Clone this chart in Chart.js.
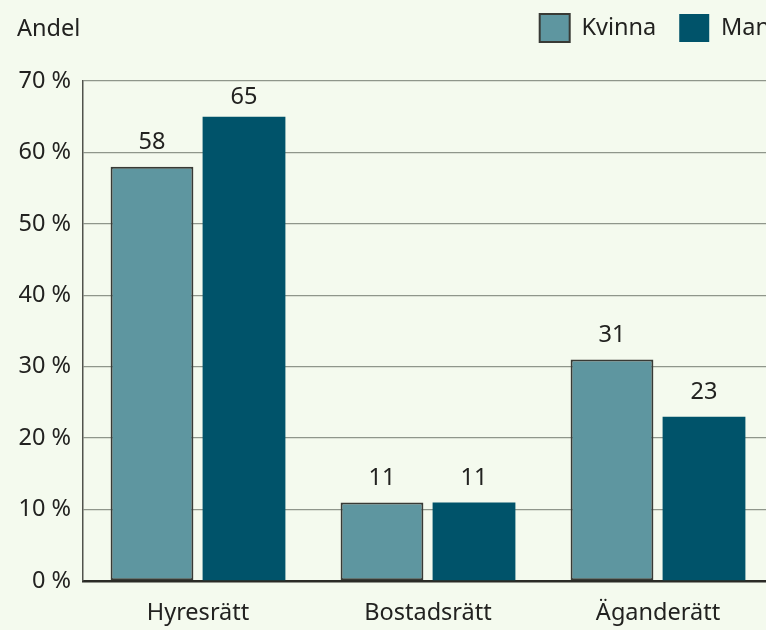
<!DOCTYPE html>
<html lang="sv">
<head>
<meta charset="utf-8">
<title>Andel per upplåtelseform</title>
<script src="https://cdn.jsdelivr.net/npm/chart.js@4/dist/chart.umd.min.js"></script>
<style>
  html, body { margin: 0; padding: 0; background: #f4faee; overflow: hidden; }
  #wrap { position: relative; width: 773px; height: 630px; }
</style>
</head>
<body>
<div id="wrap"><canvas id="chart"></canvas></div>
<script>
/* bar chart — andel per upplåtelseform och kön */

const categories  = ["Hyresrätt", "Bostadsrätt", "Äganderätt"];
const kvinnaVals  = [58, 11, 31];
const manVals     = [65, 11, 23];
const yTicks      = [0, 10, 20, 30, 40, 50, 60, 70];

const FONT  = "'Noto Sans', 'Open Sans', sans-serif";
const SIZE  = 23.5;
const TEXT  = "#222220";

// "Andel" above the y axis
const axisTitle = {
  id: "axisTitle",
  afterDraw(chart) {
    const ctx = chart.ctx;
    ctx.save();
    ctx.font = `${SIZE}px ${FONT}`;
    ctx.fillStyle = TEXT;
    ctx.textAlign = "left";
    ctx.textBaseline = "middle";
    ctx.fillText("Andel", 17, 29);
    ctx.restore();
  },
};

// extra room under the legend, legend nudged right (it runs off the edge)
const legendTweak = {
  id: "legendTweak",
  beforeInit(chart) {
    const lg   = chart.legend;
    const fit  = lg.fit;
    const draw = lg.draw;
    lg.fit = function () {
      fit.call(this);
      this.height += 20;
    };
    lg.draw = function (...args) {
      this.ctx.save();
      this.ctx.translate(20, -9);
      draw.apply(this, args);
      this.ctx.restore();
    };
  },
};

// value labels on top of each bar
const valueLabels = {
  id: "valueLabels",
  afterDatasetsDraw(chart) {
    const ctx = chart.ctx;
    ctx.save();
    ctx.font = `${SIZE}px ${FONT}`;
    ctx.fillStyle = TEXT;
    ctx.textAlign = "center";
    ctx.textBaseline = "middle";
    chart.data.datasets.forEach((ds, i) => {
      chart.getDatasetMeta(i).data.forEach((bar, j) => {
        const y = Math.max(bar.y - 24, chart.chartArea.top + 16);
        ctx.fillText(ds.data[j], bar.x, y);
      });
    });
    ctx.restore();
  },
};

new Chart(document.getElementById("chart"), {
  type: "bar",
  data: {
    labels: categories,
    datasets: [
      {
        label: "Kvinna",
        data: kvinnaVals,
        backgroundColor: "#5e96a0",
        borderColor: "#383a35",
        borderWidth: 2,
        borderSkipped: false,
      },
      {
        label: "Man",
        data: manVals,
        backgroundColor: "#00536a",
        borderColor: "#00536a",
        borderWidth: 0,
      },
    ],
  },
  options: {
    responsive: true,
    maintainAspectRatio: false,
    animation: false,
    categoryPercentage: 0.8,
    barPercentage: 0.9,
    layout: { padding: 0 },
    plugins: {
      legend: {
        position: "top",
        align: "end",
        labels: {
          boxWidth: 30,
          boxHeight: 28,
          padding: 23,
          color: TEXT,
          font: { family: FONT, size: SIZE },
        },
      },
      tooltip: { enabled: false },
    },
    scales: {
      x: {
        afterFit: s => { s.height = 49; },
        grid: { display: false, drawTicks: false },
        border: { color: "#2b2b26", width: 2.5 },
        ticks: { color: TEXT, padding: 18, font: { family: FONT, size: SIZE } },
      },
      y: {
        min: 0,
        max: 70,
        afterFit: s => { s.width = 83; },
        afterBuildTicks: s => { s.ticks = yTicks.map(v => ({ value: v })); },
        grid: { color: "#8f968b", lineWidth: 1.3, drawTicks: false },
        border: { color: "#50524c", width: 1.5 },
        ticks: {
          color: TEXT,
          padding: 12,
          font: { family: FONT, size: SIZE },
          callback: v => v + " %",
        },
      },
    },
  },
  plugins: [legendTweak, axisTitle, valueLabels],
});
</script>
</body>
</html>
